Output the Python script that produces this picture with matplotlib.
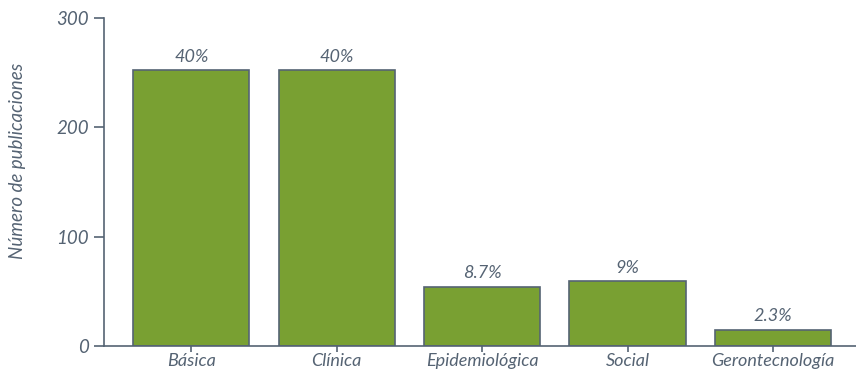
import matplotlib.pyplot as plt

categories = ['Básica', 'Clínica', 'Epidemiológica', 'Social', 'Gerontecnología']
publicaciones = [252, 252, 54, 59, 15]
porcentajes = ['40%', '40%', '8.7%', '9%', '2.3%']

text_color = '#556373'
bar_color = '#79a032'

plt.rcParams['font.family'] = ['Lato', 'DejaVu Sans']
plt.rcParams['font.style'] = 'italic'

fig = plt.figure(figsize=(8.56, 3.71), dpi=100)
ax = fig.add_axes([0.1215, 0.0674, 0.8785, 0.8841])

x = range(len(categories))
bars = ax.bar(x, publicaciones, width=0.8, color=bar_color,
              edgecolor=text_color, linewidth=1.2)

for b, p in zip(bars, porcentajes):
    ax.text(b.get_x() + b.get_width() / 2, b.get_height() + 5, p,
            ha='center', va='bottom', fontsize=13, color=text_color)

ax.set_xlim(-0.6, 4.57)
ax.set_ylim(0, 300)
ax.set_yticks([0, 100, 200, 300])
ax.set_xticks(list(x))
ax.set_xticklabels(categories)
ax.set_ylabel('Número de publicaciones', fontsize=13.5, color=text_color)
ax.yaxis.set_label_coords(-0.104, 0.564)

for s in ['top', 'right']:
    ax.spines[s].set_visible(False)
for s in ['left', 'bottom']:
    ax.spines[s].set_color(text_color)
    ax.spines[s].set_linewidth(1.2)

ax.tick_params(axis='y', length=7, width=1.2, color=text_color,
               labelcolor=text_color, labelsize=13.5, pad=4)
ax.tick_params(axis='x', length=4, width=1.2, color=text_color,
               labelcolor=text_color, labelsize=13, pad=1)

fig.savefig('out.png', dpi=100)
